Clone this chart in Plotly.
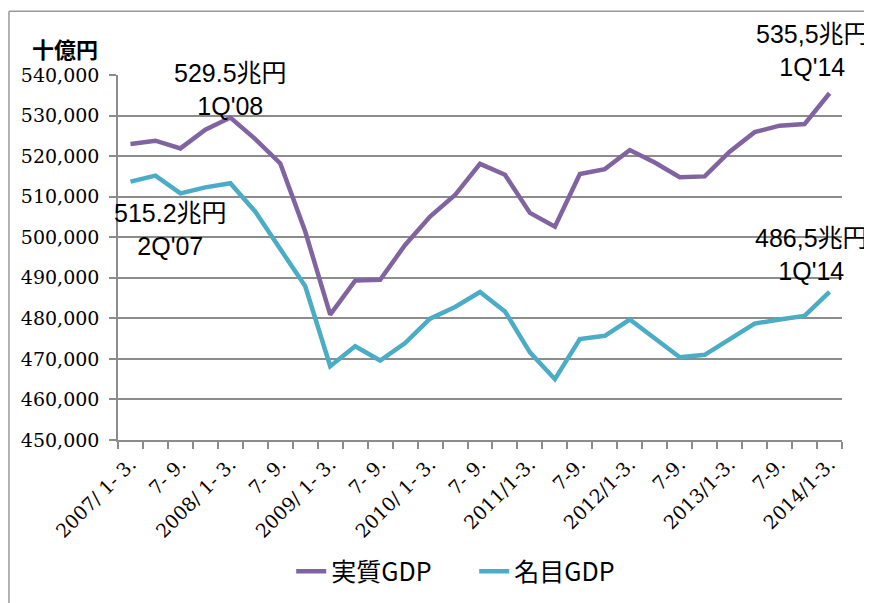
import plotly.graph_objects as go

# Quarterly GDP, 2007 Q1 - 2014 Q1 (十億円)
quarters = [
    "2007Q1", "2007Q2", "2007Q3", "2007Q4",
    "2008Q1", "2008Q2", "2008Q3", "2008Q4",
    "2009Q1", "2009Q2", "2009Q3", "2009Q4",
    "2010Q1", "2010Q2", "2010Q3", "2010Q4",
    "2011Q1", "2011Q2", "2011Q3", "2011Q4",
    "2012Q1", "2012Q2", "2012Q3", "2012Q4",
    "2013Q1", "2013Q2", "2013Q3", "2013Q4",
    "2014Q1",
]
real_gdp = [
    523000, 523800, 521900, 526500,
    529500, 524200, 518200, 501400,
    480900, 489300, 489500, 498100,
    505100, 510400, 518100, 515400,
    506000, 502600, 515600, 516800,
    521500, 518400, 514800, 515000,
    521100, 525900, 527500, 527900,
    535500,
]
nominal_gdp = [
    513700, 515200, 510800, 512300,
    513300, 506300, 497100, 487900,
    468200, 473100, 469600, 473900,
    479900, 482800, 486500, 481700,
    471600, 465000, 474900, 475700,
    479700, 475000, 470400, 471000,
    474700, 478700, 479700, 480600,
    486500,
]
tick_labels = [
    "2007/ 1- 3.", "7- 9.", "2008/ 1- 3.", "7- 9.", "2009/ 1- 3.", "7- 9.",
    "2010/ 1- 3.", "7- 9.", "2011/1-3.", "7-9.", "2012/1-3.", "7-9.",
    "2013/1-3.", "7-9.", "2014/1-3.",
]
series_names = ["実質GDP", "名目GDP"]
callouts = ["529.5兆円<br>1Q'08", "515.2兆円<br>2Q'07",
            "535,5兆円<br>1Q'14", "486,5兆円<br>1Q'14"]

idx = list(range(len(quarters)))
tick_idx = idx[::2]

PURPLE = "#8064A2"
TEAL = "#4BACC6"
GRID = "#8C8C8C"

fig = go.Figure()
fig.add_trace(go.Scatter(x=idx, y=real_gdp, name=series_names[0], mode="lines",
                         line=dict(color=PURPLE, width=4.5), customdata=quarters))
fig.add_trace(go.Scatter(x=idx, y=nominal_gdp, name=series_names[1], mode="lines",
                         line=dict(color=TEAL, width=4.5), customdata=quarters))

SERIF = "DejaVu Serif, Liberation Serif, Noto Serif, serif"
SANS = "Arial, Liberation Sans, Noto Sans CJK JP, sans-serif"
CJK = "Noto Sans CJK JP, sans-serif"

# page has an 8px body margin, so margins are reduced by 8px to compensate
fig.update_layout(
    width=872, height=603,
    margin=dict(l=110, r=38, t=67, b=171, autoexpand=False),
    paper_bgcolor="white", plot_bgcolor="white",
    showlegend=True,
    legend=dict(orientation="h", x=0.492, xanchor="center", y=-0.36, yanchor="middle",
                font=dict(family=CJK, size=25, color="black"),
                entrywidth=138, entrywidthmode="pixels", tracegroupgap=0),
    xaxis=dict(
        range=[-0.5, len(quarters) - 0.5],
        tickmode="array", tickvals=tick_idx, ticktext=tick_labels,
        tickangle=-45, ticks="", showgrid=False,
        showline=True, linecolor=GRID, linewidth=1.5,
        tickfont=dict(family=SERIF, size=19, color="black"),
        ticklabelstandoff=4,
        minor=dict(tick0=-0.5, dtick=1, ticks="outside", ticklen=7,
                   tickcolor=GRID, tickwidth=1.5, showgrid=False),
        zeroline=False, automargin=False,
    ),
    yaxis=dict(
        range=[450000, 540000], dtick=10000, tickformat=",d",
        showgrid=True, gridcolor=GRID, gridwidth=1.5,
        showline=True, linecolor=GRID, linewidth=1.5,
        ticks="outside", ticklen=7, tickcolor=GRID, tickwidth=1.5,
        tickfont=dict(family=SERIF, size=19, color="black"),
        ticklabelstandoff=6,
        zeroline=False, automargin=False,
    ),
)

# y-axis unit label
fig.add_annotation(xref="paper", yref="paper", x=-0.1215, y=1.075,
                   xanchor="left", yanchor="middle", showarrow=False,
                   text="<b>十億円</b>",
                   font=dict(family=CJK, size=22, color="black"))

callout_pos = [(0.156, 0.960), (0.072, 0.578), (0.9586, 1.066), (0.958, 0.508)]
for txt, (ax, ay) in zip(callouts, callout_pos):
    fig.add_annotation(xref="paper", yref="paper", x=ax, y=ay,
                       xanchor="center", yanchor="middle", showarrow=False,
                       text=txt, align="center",
                       font=dict(family=SANS, size=25, color="black"))

# outer frame (left and top edges)
fig.add_shape(type="line", xref="paper", yref="paper",
              x0=-0.1506, x1=-0.1506, y0=-0.5, y1=1.175,
              line=dict(color="#9A9A9A", width=1.5))
fig.add_shape(type="line", xref="paper", yref="paper",
              x0=-0.1506, x1=1.1, y0=1.175, y1=1.175,
              line=dict(color="#9A9A9A", width=1.5))

fig.write_html("out.html")
